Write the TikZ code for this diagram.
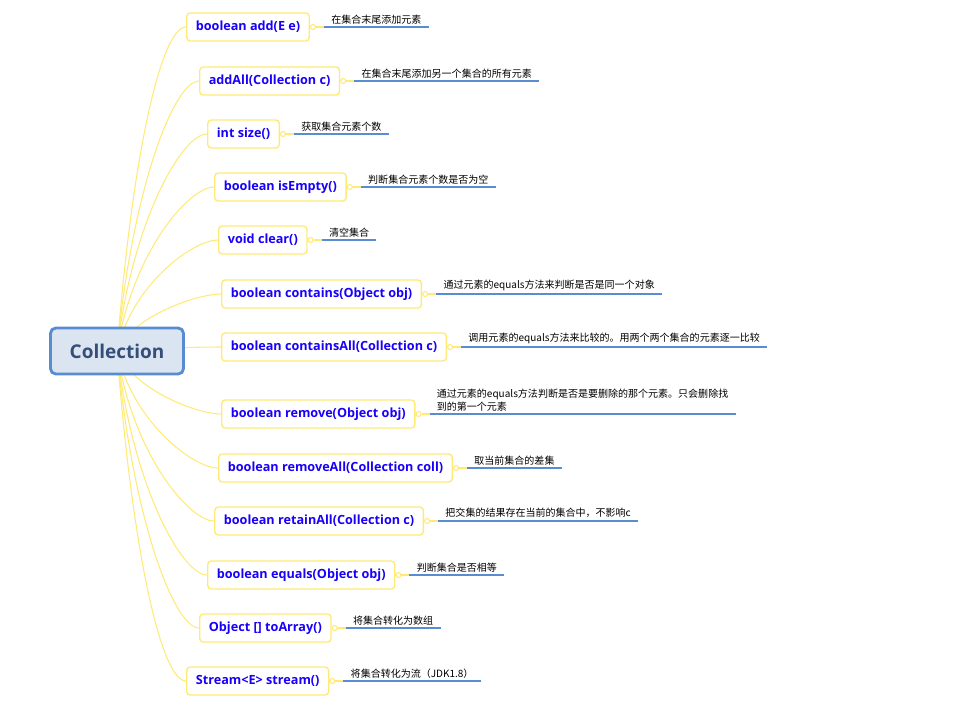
\documentclass[tikz,border=0pt]{standalone}
\usepackage{fontspec}
\setmainfont{Open Sans}
\newfontfamily\cjk{Noto Sans CJK SC}
\usetikzlibrary{calc,backgrounds}
\definecolor{rootfill}{RGB}{219,229,241}
\definecolor{rootline}{RGB}{88,140,210}
\definecolor{roottext}{RGB}{52,78,120}
\definecolor{methodline}{RGB}{255,234,120}
\definecolor{methodtext}{RGB}{25,0,250}
\definecolor{noteline}{RGB}{90,140,210}

\begin{document}
\begin{tikzpicture}[x=0.02cm,y=-0.02cm,
  root/.style={draw=rootline,line width=1.6pt,fill=rootfill,rounded corners=3pt,
    minimum width=2.66cm,minimum height=0.92cm,text=roottext,
    font=\bfseries\fontsize{10.8}{12}\selectfont},
  method/.style={draw=methodline,line width=0.8pt,fill=white,rounded corners=2pt,
    minimum height=0.56cm,inner xsep=5.2pt,anchor=west,text=methodtext,
    font=\bfseries\fontsize{7.2}{9}\selectfont},
  note/.style={anchor=south west,inner xsep=4pt,inner ysep=1.5pt,align=left,
    font=\cjk\fontsize{5.7}{7}\selectfont},
  knob/.style={circle,draw=methodline,fill=white,line width=0.6pt,minimum size=0.1cm,inner sep=0pt},
  branch/.style={draw=methodline,line width=0.6pt},
  underline/.style={draw=noteline,line width=1.1pt}]
\useasboundingbox (0,0) rectangle (962,727);

\node[root] (root) at (117,351) {Collection};

% methods
\node[method] (c1) at (186,27) {boolean add(E e)};
\node[method] (c2) at (199,81) {addAll(Collection c)};
\node[method] (c3) at (207,134) {int size()};
\node[method] (c4) at (214,187) {boolean isEmpty()};
\node[method] (c5) at (218,240) {void clear()};
\node[method] (c6) at (221,294) {boolean contains(Object obj)};
\node[method] (c7) at (221,347) {boolean containsAll(Collection c)};
\node[method] (c8) at (221,414) {boolean remove(Object obj)};
\node[method] (c9) at (218,468) {boolean removeAll(Collection coll)};
\node[method] (c10) at (214,521) {boolean retainAll(Collection c)};
\node[method] (c11) at (207,575) {boolean equals(Object obj)};
\node[method] (c12) at (199,628) {Object [] toArray()};
\node[method] (c13) at (186,681) {Stream<E> stream()};

% notes
\node[note] (n1) at ($(c1.east)+(14,0)$) {在集合末尾添加元素};
\node[note] (n2) at ($(c2.east)+(14,0)$) {在集合末尾添加另一个集合的所有元素};
\node[note] (n3) at ($(c3.east)+(14,0)$) {获取集合元素个数};
\node[note] (n4) at ($(c4.east)+(14,0)$) {判断集合元素个数是否为空};
\node[note] (n5) at ($(c5.east)+(14,0)$) {清空集合};
\node[note] (n6) at ($(c6.east)+(14,0)$) {通过元素的equals方法来判断是否是同一个对象};
\node[note] (n7) at ($(c7.east)+(14,0)$) {调用元素的equals方法来比较的。用两个两个集合的元素逐一比较};
\node[note] (n8) at ($(c8.east)+(14,0)$) {通过元素的equals方法判断是否是要删除的那个元素。只会删除找\\到的第一个元素};
\node[note] (n9) at ($(c9.east)+(14,0)$) {取当前集合的差集};
\node[note] (n10) at ($(c10.east)+(14,0)$) {把交集的结果存在当前的集合中，不影响c};
\node[note] (n11) at ($(c11.east)+(14,0)$) {判断集合是否相等};
\node[note] (n12) at ($(c12.east)+(14,0)$) {将集合转化为数组};
\node[note] (n13) at ($(c13.east)+(14,0)$) {将集合转化为流（JDK1.8）};

% knobs
\node[knob] (k1) at ($(c1.east)+(3,0)$) {};
\node[knob] (k2) at ($(c2.east)+(3,0)$) {};
\node[knob] (k3) at ($(c3.east)+(3,0)$) {};
\node[knob] (k4) at ($(c4.east)+(3,0)$) {};
\node[knob] (k5) at ($(c5.east)+(3,0)$) {};
\node[knob] (k6) at ($(c6.east)+(3,0)$) {};
\node[knob] (k7) at ($(c7.east)+(3,0)$) {};
\node[knob] (k8) at ($(c8.east)+(3,0)$) {};
\node[knob] (k9) at ($(c9.east)+(3,0)$) {};
\node[knob] (k10) at ($(c10.east)+(3,0)$) {};
\node[knob] (k11) at ($(c11.east)+(3,0)$) {};
\node[knob] (k12) at ($(c12.east)+(3,0)$) {};
\node[knob] (k13) at ($(c13.east)+(3,0)$) {};

% underlines
\draw[underline] (n1.south west) -- (n1.south east);
\draw[underline] (n2.south west) -- (n2.south east);
\draw[underline] (n3.south west) -- (n3.south east);
\draw[underline] (n4.south west) -- (n4.south east);
\draw[underline] (n5.south west) -- (n5.south east);
\draw[underline] (n6.south west) -- (n6.south east);
\draw[underline] (n7.south west) -- (n7.south east);
\draw[underline] (n8.south west) -- (n8.south east);
\draw[underline] (n9.south west) -- (n9.south east);
\draw[underline] (n10.south west) -- (n10.south east);
\draw[underline] (n11.south west) -- (n11.south east);
\draw[underline] (n12.south west) -- (n12.south east);
\draw[underline] (n13.south west) -- (n13.south east);

\begin{scope}[on background layer]
% method to note
\draw[branch] (c1.east) -- (k1) -- (n1.south west);
\draw[branch] (c2.east) -- (k2) -- (n2.south west);
\draw[branch] (c3.east) -- (k3) -- (n3.south west);
\draw[branch] (c4.east) -- (k4) -- (n4.south west);
\draw[branch] (c5.east) -- (k5) -- (n5.south west);
\draw[branch] (c6.east) -- (k6) -- (n6.south west);
\draw[branch] (c7.east) -- (k7) -- (n7.south west);
\draw[branch] (c8.east) -- (k8) -- (n8.south west);
\draw[branch] (c9.east) -- (k9) -- (n9.south west);
\draw[branch] (c10.east) -- (k10) -- (n10.south west);
\draw[branch] (c11.east) -- (k11) -- (n11.south west);
\draw[branch] (c12.east) -- (k12) -- (n12.south west);
\draw[branch] (c13.east) -- (k13) -- (n13.south west);
% root to methods
\draw[branch] (root.center) .. controls ($(root.center)!0.6!(root.center|-c1.west)+(15,0)$) and ($(c1.west)+(-25,0)$) .. (c1.west);
\draw[branch] (root.center) .. controls ($(root.center)!0.6!(root.center|-c2.west)+(15,0)$) and ($(c2.west)+(-25,0)$) .. (c2.west);
\draw[branch] (root.center) .. controls ($(root.center)!0.6!(root.center|-c3.west)+(15,0)$) and ($(c3.west)+(-25,0)$) .. (c3.west);
\draw[branch] (root.center) .. controls ($(root.center)!0.6!(root.center|-c4.west)+(15,0)$) and ($(c4.west)+(-25,0)$) .. (c4.west);
\draw[branch] (root.center) .. controls ($(root.center)!0.6!(root.center|-c5.west)+(15,0)$) and ($(c5.west)+(-25,0)$) .. (c5.west);
\draw[branch] (root.center) .. controls ($(root.center)!0.6!(root.center|-c6.west)+(15,0)$) and ($(c6.west)+(-25,0)$) .. (c6.west);
\draw[branch] (root.center) .. controls ($(root.center)!0.6!(root.center|-c7.west)+(15,0)$) and ($(c7.west)+(-25,0)$) .. (c7.west);
\draw[branch] (root.center) .. controls ($(root.center)!0.6!(root.center|-c8.west)+(15,0)$) and ($(c8.west)+(-25,0)$) .. (c8.west);
\draw[branch] (root.center) .. controls ($(root.center)!0.6!(root.center|-c9.west)+(15,0)$) and ($(c9.west)+(-25,0)$) .. (c9.west);
\draw[branch] (root.center) .. controls ($(root.center)!0.6!(root.center|-c10.west)+(15,0)$) and ($(c10.west)+(-25,0)$) .. (c10.west);
\draw[branch] (root.center) .. controls ($(root.center)!0.6!(root.center|-c11.west)+(15,0)$) and ($(c11.west)+(-25,0)$) .. (c11.west);
\draw[branch] (root.center) .. controls ($(root.center)!0.6!(root.center|-c12.west)+(15,0)$) and ($(c12.west)+(-25,0)$) .. (c12.west);
\draw[branch] (root.center) .. controls ($(root.center)!0.6!(root.center|-c13.west)+(15,0)$) and ($(c13.west)+(-25,0)$) .. (c13.west);
\end{scope}
\end{tikzpicture}
\end{document}
